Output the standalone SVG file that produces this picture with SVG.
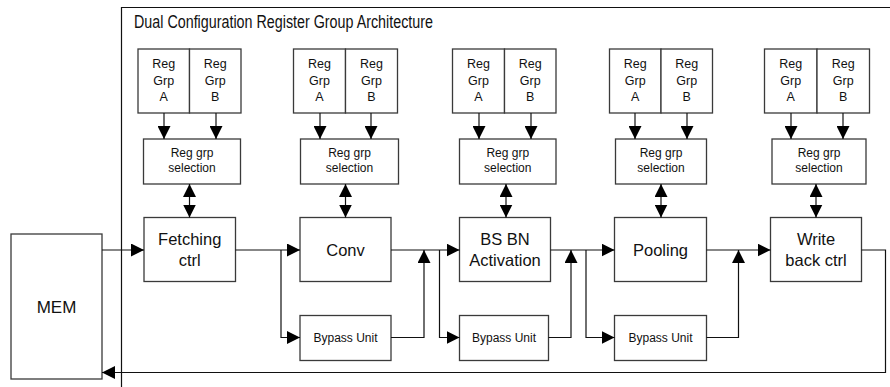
<svg xmlns="http://www.w3.org/2000/svg" width="890" height="387" viewBox="0 0 890 387">
<defs>
<style>
.box{fill:#fff;stroke:#3a3a3a;stroke-width:1.3}
.ln{fill:none;stroke:#111;stroke-width:1.2}
.t{font-family:"Liberation Sans",Arial,sans-serif;fill:#111;text-anchor:middle}
.big{font-size:16.5px}
.sm{font-size:12.5px}
.xs{font-size:12px}
</style>
<marker id="ah" markerUnits="userSpaceOnUse" markerWidth="13" markerHeight="13" refX="13" refY="6.5" orient="auto-start-reverse" viewBox="0 0 13 13">
<path d="M0,0 L13,6.5 L0,13 z" fill="#000"/>
</marker>
</defs>
<rect width="890" height="387" fill="#fff"/>

<g id="frame">
<path class="ln" d="M121.5 387 V7.5 H890"/>
<text x="134" y="28" font-family="Liberation Sans,Arial,sans-serif" font-size="17.5" fill="#111" textLength="299" lengthAdjust="spacingAndGlyphs">Dual Configuration Register Group Architecture</text>
</g>

<g id="mem"><rect class="box" x="11" y="234" width="91" height="145"/><text class="t" font-size="17" x="56.5" y="312.5">MEM</text></g>

<g id="fetch"><rect class="box" x="144" y="217.5" width="91.5" height="64"/><text class="t big" x="189.75" y="245">Fetching</text><text class="t big" x="189.75" y="266">ctrl</text></g>
<g id="conv"><rect class="box" x="300" y="217.5" width="91" height="64"/><text class="t big" x="345.5" y="256">Conv</text></g>
<g id="bsbn"><rect class="box" x="459.5" y="217.5" width="91" height="64"/><text class="t big" x="505" y="245">BS BN</text><text class="t big" x="505" y="266">Activation</text></g>
<g id="pool"><rect class="box" x="614.5" y="217.5" width="92" height="64"/><text class="t big" x="660.5" y="256">Pooling</text></g>
<g id="wb"><rect class="box" x="770.5" y="217.5" width="91" height="64"/><text class="t big" x="816" y="245">Write</text><text class="t big" x="816" y="266">back ctrl</text></g>

<g id="byp1"><rect class="box" x="300" y="315.5" width="91" height="45"/><text class="t xs" x="345.5" y="342">Bypass Unit</text></g>
<g id="byp2"><rect class="box" x="459.5" y="315.5" width="89" height="45"/><text class="t xs" x="504" y="342">Bypass Unit</text></g>
<g id="byp3"><rect class="box" x="614.5" y="315.5" width="92" height="45"/><text class="t xs" x="660.5" y="342">Bypass Unit</text></g>

<g id="reg1">
<rect class="box" x="138" y="49" width="51.5" height="64"/><rect class="box" x="189.5" y="49" width="51.5" height="64"/>
<text class="t sm" x="163.75" y="68">Reg</text><text class="t sm" x="163.75" y="84.5">Grp</text><text class="t sm" x="163.75" y="101">A</text>
<text class="t sm" x="215.25" y="68">Reg</text><text class="t sm" x="215.25" y="84.5">Grp</text><text class="t sm" x="215.25" y="101">B</text>
</g>
<g id="sel1"><rect class="box" x="143.5" y="139" width="97" height="45"/><text class="t xs" x="192" y="157">Reg grp</text><text class="t xs" x="192" y="172">selection</text></g>

<g id="reg2">
<rect class="box" x="293.5" y="49" width="52" height="64"/><rect class="box" x="345.5" y="49" width="52" height="64"/>
<text class="t sm" x="319.5" y="68">Reg</text><text class="t sm" x="319.5" y="84.5">Grp</text><text class="t sm" x="319.5" y="101">A</text>
<text class="t sm" x="371.5" y="68">Reg</text><text class="t sm" x="371.5" y="84.5">Grp</text><text class="t sm" x="371.5" y="101">B</text>
</g>
<g id="sel2"><rect class="box" x="300.5" y="139" width="98" height="45"/><text class="t xs" x="349.5" y="157">Reg grp</text><text class="t xs" x="349.5" y="172">selection</text></g>

<g id="reg3">
<rect class="box" x="452.5" y="49" width="52" height="64"/><rect class="box" x="504.5" y="49" width="51.5" height="64"/>
<text class="t sm" x="478.5" y="68">Reg</text><text class="t sm" x="478.5" y="84.5">Grp</text><text class="t sm" x="478.5" y="101">A</text>
<text class="t sm" x="530.25" y="68">Reg</text><text class="t sm" x="530.25" y="84.5">Grp</text><text class="t sm" x="530.25" y="101">B</text>
</g>
<g id="sel3"><rect class="box" x="459.5" y="139" width="96.5" height="45"/><text class="t xs" x="507.75" y="157">Reg grp</text><text class="t xs" x="507.75" y="172">selection</text></g>

<g id="reg4">
<rect class="box" x="609.5" y="49" width="51.5" height="64"/><rect class="box" x="661" y="49" width="51.5" height="64"/>
<text class="t sm" x="635.25" y="68">Reg</text><text class="t sm" x="635.25" y="84.5">Grp</text><text class="t sm" x="635.25" y="101">A</text>
<text class="t sm" x="686.75" y="68">Reg</text><text class="t sm" x="686.75" y="84.5">Grp</text><text class="t sm" x="686.75" y="101">B</text>
</g>
<g id="sel4"><rect class="box" x="615.5" y="139" width="91" height="45"/><text class="t xs" x="661" y="157">Reg grp</text><text class="t xs" x="661" y="172">selection</text></g>

<g id="reg5">
<rect class="box" x="764.5" y="49" width="52.5" height="64"/><rect class="box" x="817" y="49" width="52.5" height="64"/>
<text class="t sm" x="790.75" y="68">Reg</text><text class="t sm" x="790.75" y="84.5">Grp</text><text class="t sm" x="790.75" y="101">A</text>
<text class="t sm" x="843.25" y="68">Reg</text><text class="t sm" x="843.25" y="84.5">Grp</text><text class="t sm" x="843.25" y="101">B</text>
</g>
<g id="sel5"><rect class="box" x="772" y="139" width="94" height="45"/><text class="t xs" x="819" y="157">Reg grp</text><text class="t xs" x="819" y="172">selection</text></g>

<g id="connectors">
<path class="ln" marker-end="url(#ah)" d="M164 113 V139"/>
<path class="ln" marker-end="url(#ah)" d="M216 113 V139"/>
<path class="ln" marker-end="url(#ah)" d="M320 113 V139"/>
<path class="ln" marker-end="url(#ah)" d="M371 113 V139"/>
<path class="ln" marker-end="url(#ah)" d="M479 113 V139"/>
<path class="ln" marker-end="url(#ah)" d="M531 113 V139"/>
<path class="ln" marker-end="url(#ah)" d="M635 113 V139"/>
<path class="ln" marker-end="url(#ah)" d="M687 113 V139"/>
<path class="ln" marker-end="url(#ah)" d="M791 113 V139"/>
<path class="ln" marker-end="url(#ah)" d="M843 113 V139"/>
<path class="ln" marker-start="url(#ah)" marker-end="url(#ah)" d="M189.5 184 V217.5"/>
<path class="ln" marker-start="url(#ah)" marker-end="url(#ah)" d="M345.5 184 V217.5"/>
<path class="ln" marker-start="url(#ah)" marker-end="url(#ah)" d="M506 184 V217.5"/>
<path class="ln" marker-start="url(#ah)" marker-end="url(#ah)" d="M661 184 V217.5"/>
<path class="ln" marker-start="url(#ah)" marker-end="url(#ah)" d="M816 184 V217.5"/>
<path class="ln" marker-end="url(#ah)" d="M102 250 H144"/>
<path class="ln" marker-end="url(#ah)" d="M235.5 250 H300"/>
<path class="ln" marker-end="url(#ah)" d="M281 250 V337.5 H300"/>
<path class="ln" marker-end="url(#ah)" d="M391 250 H459.5"/>
<path class="ln" marker-end="url(#ah)" d="M391 337.5 H424 V250"/>
<path class="ln" marker-end="url(#ah)" d="M439.5 250 V337.5 H459.5"/>
<path class="ln" marker-end="url(#ah)" d="M550.5 250 H614.5"/>
<path class="ln" marker-end="url(#ah)" d="M548.5 337.5 H571 V250"/>
<path class="ln" marker-end="url(#ah)" d="M586 250 V337.5 H614.5"/>
<path class="ln" marker-end="url(#ah)" d="M706.5 250 H770.5"/>
<path class="ln" marker-end="url(#ah)" d="M706.5 337.5 H738.5 V250"/>
<path class="ln" marker-end="url(#ah)" d="M861.5 250 H885.5 V372.5 H102"/>
</g>
</svg>
